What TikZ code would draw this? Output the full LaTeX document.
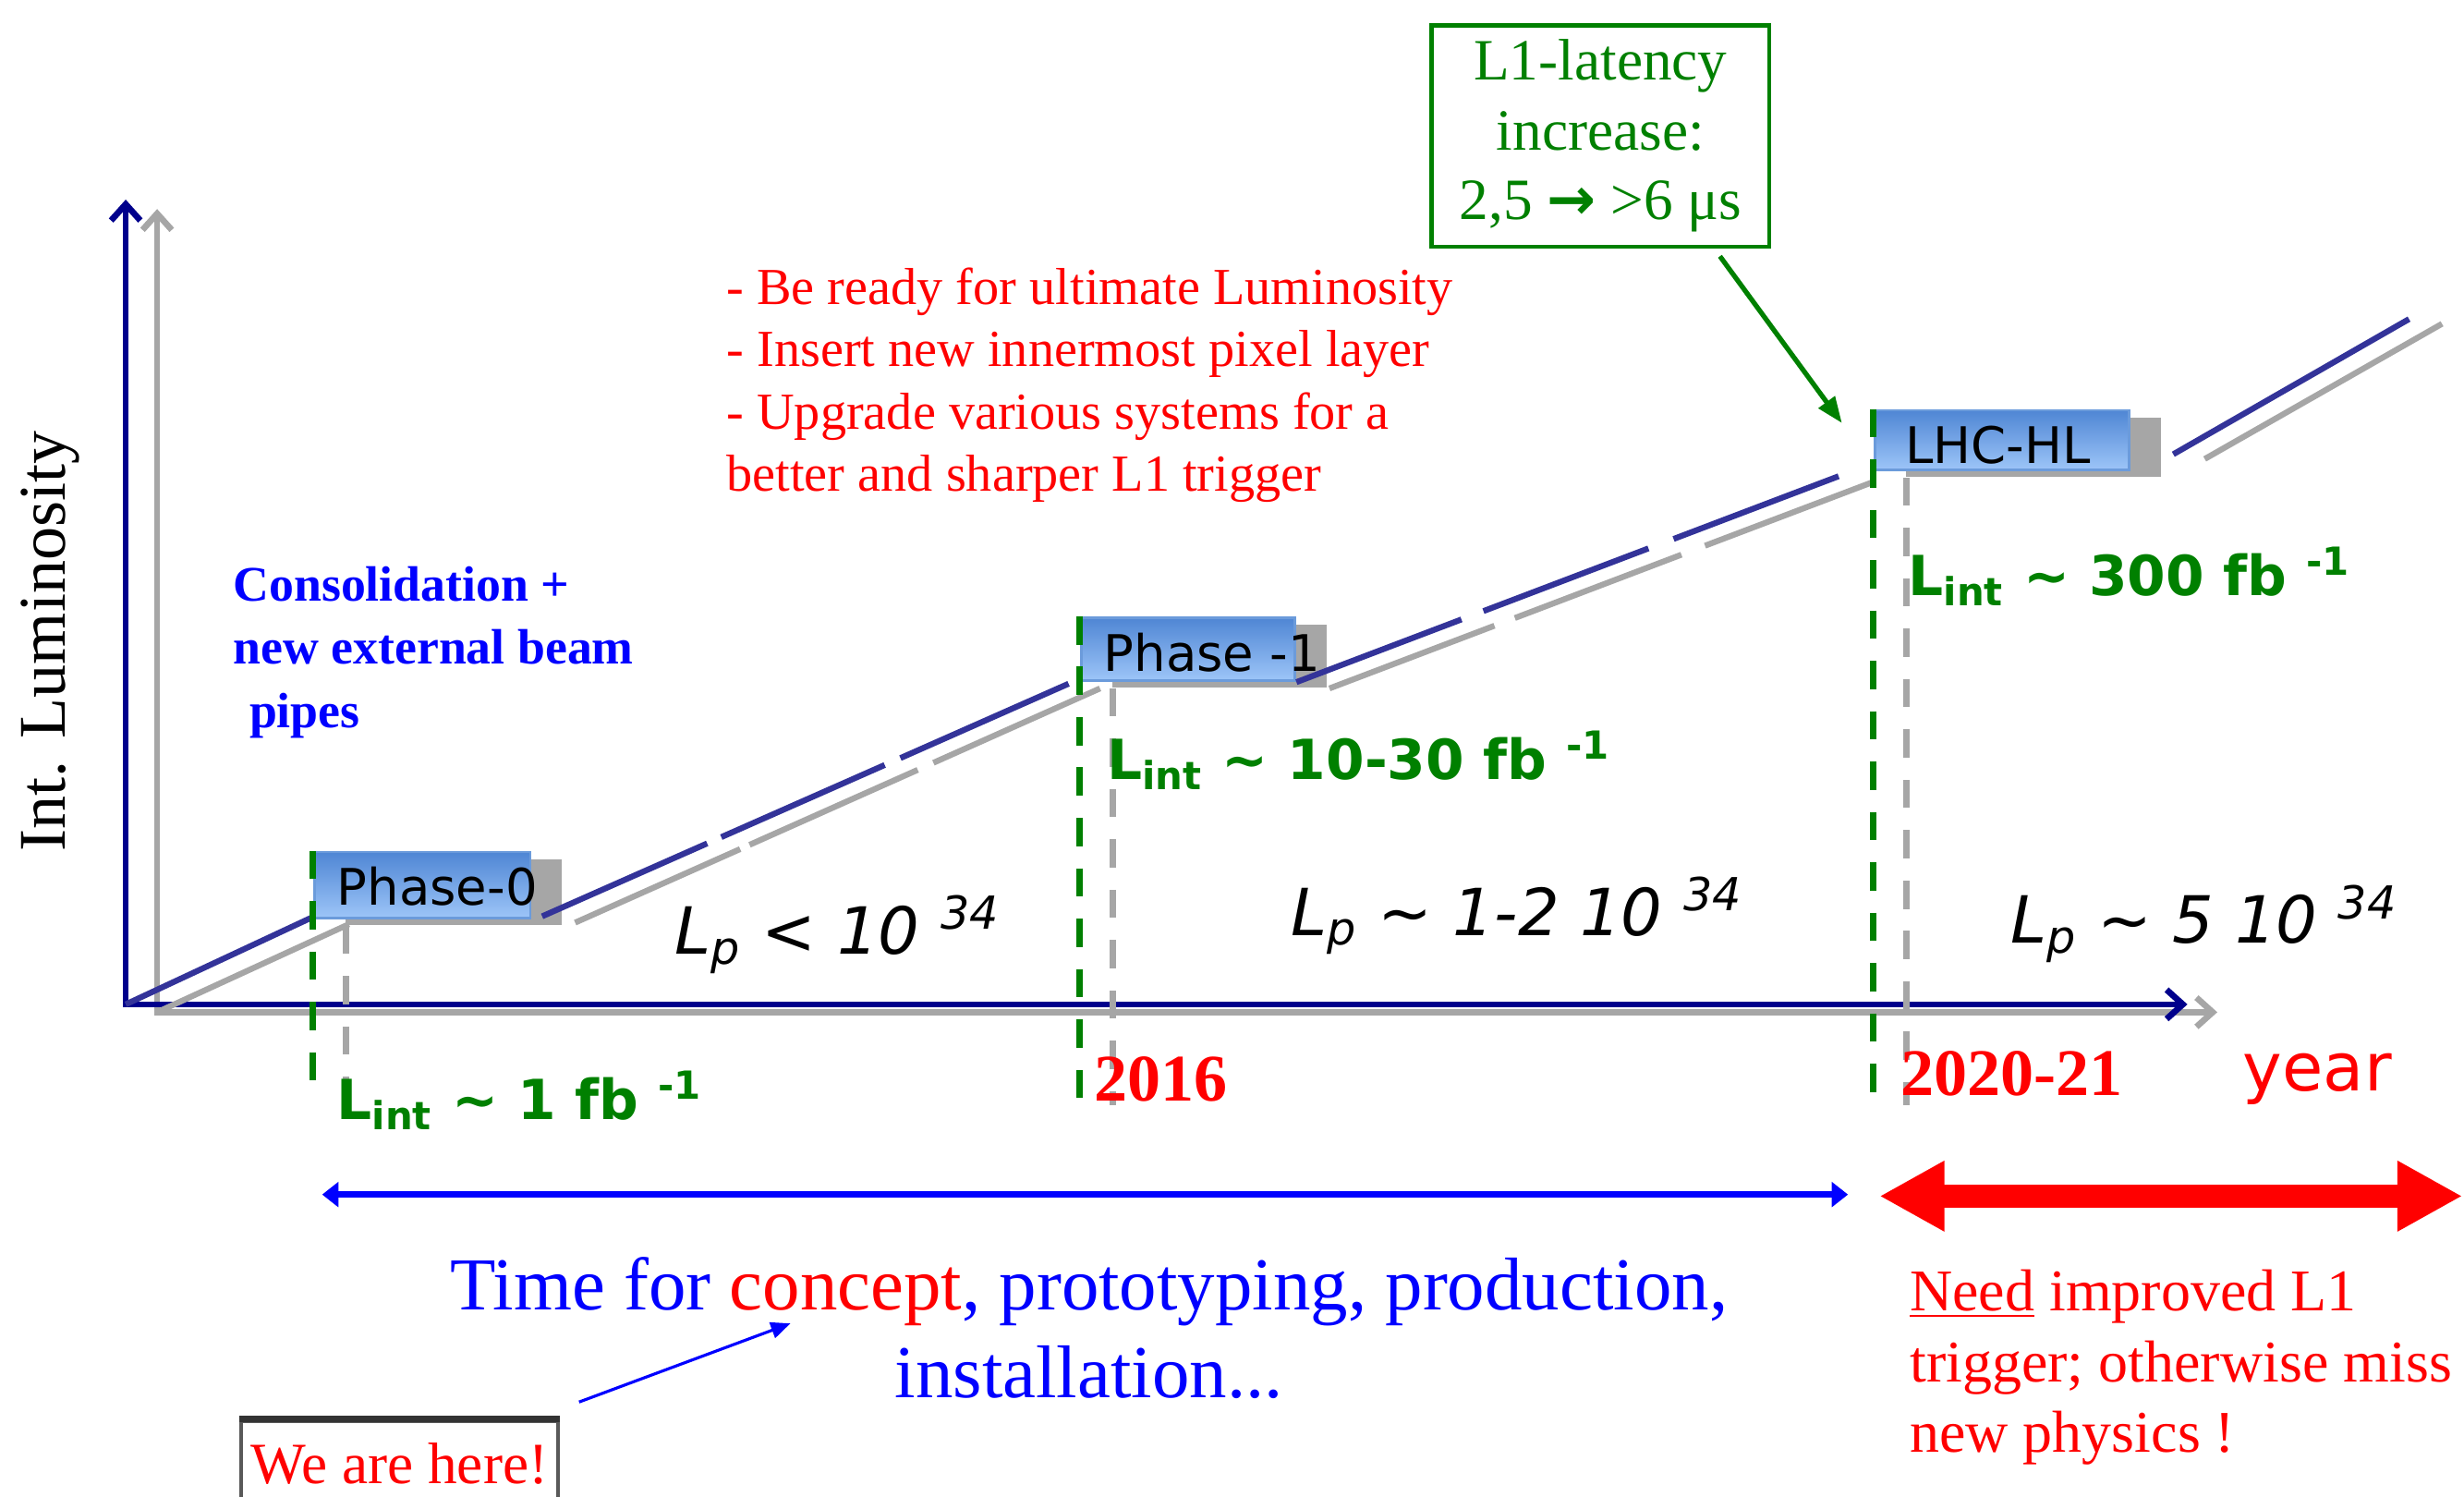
\documentclass[tikz,border=0pt]{standalone}
\usepackage{fontspec}
\setmainfont{Liberation Serif}
\setsansfont{DejaVu Sans}
\usetikzlibrary{arrows.meta,calc,shadows}
\definecolor{axisblue}{HTML}{00008C}
\definecolor{rampblue}{HTML}{333399}
\definecolor{linegray}{HTML}{A6A6A6}
\definecolor{lumigreen}{HTML}{008000}
\definecolor{boxtop}{HTML}{4F86D4}
\definecolor{boxbot}{HTML}{9DC5F8}
\definecolor{boxedge}{HTML}{6B9BDB}
\begin{document}
\begin{tikzpicture}[x=0.017cm, y=-0.017cm, >=Stealth,
    phasebox/.style={draw=boxedge, line width=0.8pt, top color=boxtop, bottom color=boxbot, inner sep=0pt,
        general shadow={fill=linegray, shadow xshift=9.7pt, shadow yshift=-2.2pt}},
    phasetext/.style={anchor=base west, inner sep=0pt, font=\sffamily\fontsize{15.5}{18}\selectfont},
    lint/.style={anchor=base west, inner sep=0pt, text=lumigreen, font=\sffamily\bfseries\fontsize{17}{20}\selectfont},
    lumip/.style={anchor=base west, inner sep=0pt, font=\sffamily\itshape\fontsize{20}{24}\selectfont},
    yeartext/.style={anchor=base west, inner sep=0pt, text=red, font=\bfseries\fontsize{20.5}{24}\selectfont},
    gdash/.style={lumigreen, line width=2pt, dash pattern=on 8.7pt off 6.8pt},
    kdash/.style={linegray, line width=2pt, dash pattern=on 8.7pt off 6.8pt},
    ramp/.style={rampblue, line width=1.8pt},
    rampgray/.style={linegray, line width=1.8pt},
    barb/.style={{Straight Barb[length=5pt,width=9pt]}-{Straight Barb[length=5pt,width=9pt]}}]
\useasboundingbox (0,0) rectangle (1568,952);

% axes
\coordinate (origin) at (80,639);
\coordinate (ytop) at (80,127);
\coordinate (xend) at (1392,639);
\draw[linegray, line width=1.9pt, barb] (100,133) |- (1411,644);
\draw[axisblue, line width=1.9pt, barb] (ytop) |- (xend);
\node[rotate=90, inner sep=0pt, font=\fontsize{20.5}{24}\selectfont] (ylabel) at (32,408) {Int. Luminosity};

% phases
\node[phasebox, minimum width=66.5pt, minimum height=20.3pt] (ph0) at (268.75,563) {};
\node[phasetext] (ph0t) at (214,576) {Phase-0};
\node[phasebox, minimum width=65.8pt, minimum height=19.4pt] (ph1) at (756,413) {};
\node[phasetext] (ph1t) at (702,427) {Phase -1};
\node[phasebox, minimum width=78.4pt, minimum height=18.4pt] (lhc) at (1274,280) {};
\node[phasetext] (lhct) at (1212,295) {LHC-HL};

% luminosity ramp
\draw[rampgray] (100,644) -- (222,588) (366,587) -- (471,540.2) (477,537.5) -- (584,489.8)
    (594,485.3) -- (700,438) (846,438) -- (951,398.1) (964,393.2) -- (1070,352.9)
    (1085,347.2) -- (1191,307) (1403,292) -- (1554,206);
\draw[ramp] (origin) -- (200,583) (345,583) -- (450,536.6) (459,532.6) -- (563,486.7)
    (573,482.3) -- (680,435) (825,434) -- (930,394.1) (944,388.8) -- (1049,348.9)
    (1065,342.9) -- (1170,303) (1383,289) -- (1533,203);

% year markers
\coordinate (gbot) at (0,699);
\coordinate (kbot) at (0,703);
\foreach \b in {ph0,ph1,lhc} {
    \draw[gdash] (\b.north west) -- (\b.north west |- gbot);
    \draw[kdash] ($(\b.south west)+(21,4)$) coordinate (k) -- (k |- kbot);
}

\node[lint] (lint0) at (214,712.5) {L\textsubscript{int} \textasciitilde{} 1 fb \textsuperscript{-1}};
\node[lint] (lint1) at (704,496) {L\textsubscript{int} \textasciitilde{} 10-30 fb \textsuperscript{-1}};
\node[lint] (lint2) at (1214,379) {L\textsubscript{int} \textasciitilde{} 300 fb \textsuperscript{-1}};

\node[lumip] (lp0) at (429,607) {L\textsubscript{p} < 10 \textsuperscript{34}};
\node[lumip] (lp1) at (821,595) {L\textsubscript{p} \textasciitilde{} 1-2 10 \textsuperscript{34}};
\node[lumip] (lp2) at (1279,600) {L\textsubscript{p} \textasciitilde{} 5 10 \textsuperscript{34}};

\node[yeartext] (y2016) at (696,700.5) {2016};
\node[yeartext] (y2020) at (1209,697) {2020-21};
\node[anchor=base west, inner sep=0pt, text=red, font=\sffamily\fontsize{20.5}{24}\selectfont] (yearlbl) at (1427,694) {year};

% notes
\node[anchor=west, inner sep=0pt, align=left, text=blue, font=\bfseries\fontsize{15.3}{19.4}\selectfont] (consol) at (148,415)
    {Consolidation +\\new external beam\\\hspace*{5pt}pipes};
\node[anchor=west, inner sep=0pt, align=left, text=red, font=\fontsize{16}{19.2}\selectfont] (goals) at (462,245)
    {- Be ready for ultimate Luminosity\\- Insert new innermost pixel layer\\- Upgrade various systems for a\\better and sharper L1 trigger};
\node[draw=lumigreen, line width=1.2pt, text=lumigreen, align=center, minimum width=104pt, minimum height=68pt,
    inner sep=0pt, font=\fontsize{18}{21.5}\selectfont] (latency) at (1018.5,86.5)
    {L1-latency\\increase:\\2,5 {\sffamily\bfseries →} >6 μs};
\draw[lumigreen, line width=1.5pt, -{Triangle[length=8pt,width=6pt]}] ($(latency.south)+(76,5)$) -- ($(lhc.north west)+(-20,9)$);

% time spans
\coordinate (tstart) at (205,760);
\coordinate (tend) at (1176,760);
\draw[blue, line width=1.9pt, {Triangle[length=5pt,width=7.5pt]}-{Triangle[length=5pt,width=7.5pt]}] (tstart) -- (tend);
\coordinate (rstart) at (1196,761);
\coordinate (rend) at (1567,761);
\draw[red, line width=7.3pt, {Triangle[length=20pt,width=20.3pt]}-{Triangle[length=20pt,width=20.3pt]}] (rstart) -- (rend);

\node[align=center, text=blue, inner sep=0pt, font=\fontsize{23}{27}\selectfont] (timetxt) at (693,845)
    {Time for \textcolor{red}{concept}, prototyping, production,\\installation...};
\node[anchor=west, inner sep=0pt, align=left, text=red, font=\fontsize{18.2}{21.8}\selectfont] (need) at (1215,870)
    {\underline{Need} improved L1\\trigger; otherwise miss\\new physics !};

\node[draw=black!65, line width=1.2pt, text=red, anchor=north west, minimum width=97.7pt, minimum height=26pt,
    inner sep=0pt, font=\fontsize{18}{21}\selectfont] (here) at (152,903) {We are here!};
\draw[black!80, line width=2pt] (here.north west) -- (here.north east);
\coordinate (concept) at (503,842);
\draw[blue, line width=0.9pt, -{Triangle[length=6pt,width=5pt]}] ($(here.north east)+(12,-11)$) -- (concept);
\end{tikzpicture}
\end{document}
